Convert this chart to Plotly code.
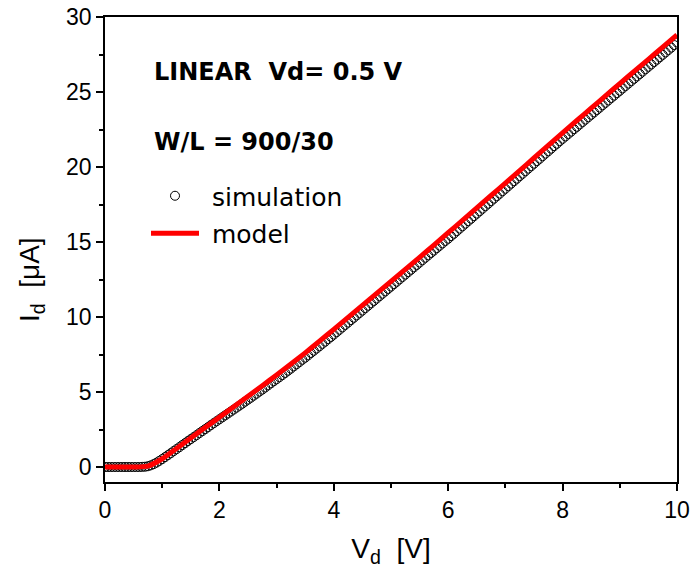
import numpy as np
import plotly.graph_objects as go

# Simulation samples (Vd step 0.05 V, 0..10 V)
sim_v = [round(i * 0.05, 2) for i in range(201)]
sim_id = [
    0.00, 0.00, 0.00, 0.00, 0.00, 0.00, 0.00, 0.00, 0.00, 0.00, 0.00, 0.00, 0.00,
    0.01, 0.02, 0.05, 0.11, 0.19, 0.29, 0.41, 0.53,
    0.66, 0.79, 0.92, 1.06, 1.19, 1.32, 1.46, 1.59, 1.73, 1.86,
    1.99, 2.12, 2.26, 2.39, 2.52, 2.65, 2.79, 2.92, 3.05, 3.18,
    3.31, 3.44, 3.57, 3.70, 3.83, 3.96, 4.09, 4.22, 4.36, 4.49,
    4.62, 4.76, 4.89, 5.03, 5.16, 5.30, 5.44, 5.58, 5.72, 5.85,
    5.99, 6.13, 6.27, 6.42, 6.56, 6.71, 6.85, 7.00, 7.15, 7.29,
    7.44, 7.60, 7.75, 7.90, 8.05, 8.21, 8.36, 8.52, 8.67, 8.83,
    8.99, 9.15, 9.31, 9.47, 9.63, 9.79, 9.95, 10.11, 10.27, 10.43,
    10.59, 10.75, 10.91, 11.07, 11.23, 11.39, 11.55, 11.71, 11.87, 12.03,
    12.19, 12.35, 12.51, 12.67, 12.83, 12.99, 13.15, 13.31, 13.47, 13.63,
    13.79, 13.95, 14.11, 14.27, 14.43, 14.59, 14.75, 14.91, 15.07, 15.22,
    15.39, 15.55, 15.72, 15.89, 16.05, 16.22, 16.39, 16.55, 16.72, 16.89,
    17.05, 17.22, 17.39, 17.55, 17.72, 17.89, 18.05, 18.22, 18.39, 18.55,
    18.72, 18.89, 19.05, 19.22, 19.39, 19.55, 19.72, 19.89, 20.05, 20.22,
    20.39, 20.55, 20.72, 20.89, 21.05, 21.22, 21.39, 21.55, 21.72, 21.88,
    22.04, 22.20, 22.36, 22.52, 22.68, 22.84, 23.00, 23.16, 23.32, 23.48,
    23.64, 23.80, 23.96, 24.12, 24.28, 24.44, 24.60, 24.76, 24.92, 25.08,
    25.24, 25.40, 25.56, 25.72, 25.88, 26.04, 26.20, 26.36, 26.52, 26.68,
    26.84, 27.00, 27.16, 27.32, 27.48, 27.64, 27.80, 27.96, 28.13, 28.30,
]

# Model curve (Vd step 0.25 V)
model_v = [round(i * 0.25, 2) for i in range(41)]
model_id = [
    0.00, 0.00, 0.00, 0.06, 0.55, 1.23, 1.93, 2.63, 3.32, 4.02,
    4.72, 5.42, 6.13, 6.86, 7.61, 8.39, 9.18, 9.97, 10.77, 11.57,
    12.37, 13.17, 13.98, 14.79, 15.62, 16.44, 17.27, 18.10, 18.93, 19.76,
    20.60, 21.44, 22.28, 23.10, 23.92, 24.74, 25.56, 26.37, 27.18, 27.99,
    28.80,
]

x_ticks = [0, 2, 4, 6, 8, 10]
y_ticks = [0, 5, 10, 15, 20, 25, 30]

FONT = "Liberation Sans, Arial, sans-serif"
WIDE = "DejaVu Sans, Verdana, sans-serif"

fig = go.Figure()
fig.add_trace(go.Scatter(
    x=sim_v, y=sim_id, mode="markers", name="\u00a0simulation",
    marker=dict(symbol="circle-open", size=9, color="black", line=dict(width=1, color="black")),
    legendgroup="a",
))
fig.add_trace(go.Scatter(
    x=model_v, y=model_id, mode="lines", name="\u00a0model",
    line=dict(color="#ff0000", width=5, shape="spline", smoothing=0.6),
    legendgroup="b",
))

axis_common = dict(
    showgrid=False, zeroline=False, showline=True, linecolor="black", linewidth=1.5,
    mirror=True, ticks="outside", ticklen=7, tickwidth=1.5, tickcolor="black",
    tickfont=dict(family=FONT, size=23, color="black"), automargin=False,
)

fig.update_xaxes(
    range=[0, 10], tickvals=x_ticks, ticktext=[str(v) for v in x_ticks],
    minor=dict(ticks="outside", ticklen=4, tickwidth=1.5, tickcolor="black", dtick=1, tick0=0),
    title=dict(text="V<sub>d</sub>\u00a0\u00a0[V]", font=dict(family=FONT, size=28, color="black"), standoff=16),
    **axis_common,
)
fig.update_yaxes(
    range=[-1, 30], tickvals=y_ticks, ticktext=[str(v) for v in y_ticks],
    minor=dict(ticks="outside", ticklen=4, tickwidth=1.5, tickcolor="black", dtick=2.5, tick0=0),
    **axis_common,
)

# y-axis title (placed as rotated text, slightly below the axis centre as in the reference)
fig.add_annotation(
    xref="paper", yref="paper", x=(31 - 105) / 572, y=(482 - 280) / 465,
    xanchor="center", yanchor="middle", showarrow=False, textangle=-90,
    text="I<sub>d</sub>\u00a0\u00a0[μA]", font=dict(family=FONT, size=28, color="black"),
)

fig.add_annotation(
    xref="paper", yref="paper", x=(152 - 105) / 572, y=(482 - 72) / 465,
    xanchor="left", yanchor="middle", showarrow=False,
    text="<b>LINEAR\u00a0\u00a0Vd= 0.5 V</b>", font=dict(family=WIDE, size=24, color="black"),
)
fig.add_annotation(
    xref="paper", yref="paper", x=(152 - 105) / 572, y=(482 - 142) / 465,
    xanchor="left", yanchor="middle", showarrow=False,
    text="<b>W/L = 900/30</b>", font=dict(family=WIDE, size=24, color="black"),
)

fig.update_layout(
    width=695, height=577,
    margin=dict(l=105, r=18, t=17, b=95),
    paper_bgcolor="white", plot_bgcolor="white",
    showlegend=True,
    legend=dict(
        x=(146 - 105) / 572, y=(482 - 173) / 465, xanchor="left", yanchor="top",
        bgcolor="rgba(0,0,0,0)", borderwidth=0,
        font=dict(family=WIDE, size=25, color="black"),
        traceorder="grouped", tracegroupgap=2, itemwidth=48,
    ),
)

fig.write_html(
    "out.html",
    config={"displayModeBar": False},
    post_script="document.body.style.margin='0';document.body.style.overflow='hidden';",
)
